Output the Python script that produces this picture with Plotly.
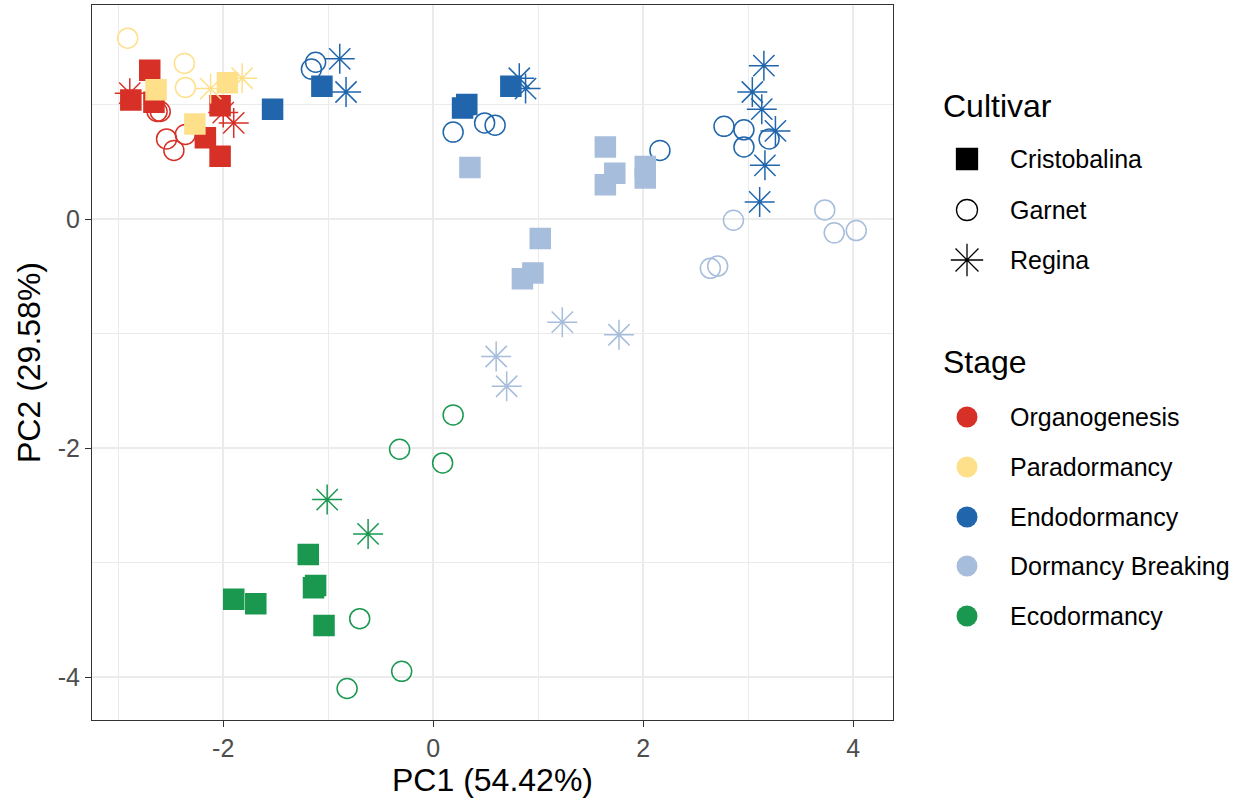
import plotly.graph_objects as go

# ---------------- data ----------------
stages = ["Organogenesis", "Paradormancy", "Endodormancy", "Dormancy Breaking", "Ecodormancy"]
stage_colors = ["#D73027", "#FEE08B", "#2166AC", "#A6BDDB", "#1A9850"]
cultivars = ["Cristobalina", "Garnet", "Regina"]
cultivar_symbols = ["square", "circle-open", "asterisk-open"]
cultivar_sizes = [20, 20, 25]

# Organogenesis
org_cri_pc1 = [-2.70, -2.88, -2.66, -2.17, -2.03]
org_cri_pc2 = [1.30, 1.04, 1.02, 0.71, 0.55]
org_gar_pc1 = [-2.63, -2.60, -2.54, -2.47, -2.36]
org_gar_pc2 = [0.94, 0.94, 0.70, 0.60, 0.74]
org_reg_pc1 = [-2.89, -2.00, -1.90]
org_reg_pc2 = [1.10, 0.93, 0.84]
org_cri2_pc1 = [-2.03]
org_cri2_pc2 = [0.99]

# Paradormancy
par_cri_pc1 = [-2.64, -1.96, -2.27]
par_cri_pc2 = [1.13, 1.19, 0.83]
par_gar_pc1 = [-2.91, -2.37, -2.36]
par_gar_pc2 = [1.58, 1.36, 1.15]
par_reg_pc1 = [-2.12, -1.82]
par_reg_pc2 = [1.14, 1.23]

# Endodormancy
end_cri_pc1 = [-1.53, -1.06, 0.32, 0.28, 0.74]
end_cri_pc2 = [0.96, 1.16, 1.00, 0.97, 1.16]
end_gar_pc1 = [-1.12, -1.16, 0.19, 0.49, 0.59, 2.16, 2.77, 2.96, 2.96, 3.20]
end_gar_pc2 = [1.37, 1.31, 0.76, 0.84, 0.82, 0.60, 0.81, 0.78, 0.63, 0.70]
end_reg_pc1 = [-0.89, -0.83, 0.82, 0.88, 3.15, 3.04, 3.13, 3.26, 3.16, 3.11]
end_reg_pc2 = [1.40, 1.11, 1.23, 1.14, 1.34, 1.11, 0.96, 0.77, 0.47, 0.15]

# Dormancy Breaking
dbr_cri_pc1 = [0.35, 1.64, 1.73, 1.64, 2.02, 2.02, 1.02, 0.95, 0.85]
dbr_cri_pc2 = [0.45, 0.63, 0.40, 0.30, 0.46, 0.36, -0.17, -0.47, -0.52]
dbr_gar_pc1 = [2.86, 3.73, 3.82, 4.03, 2.64, 2.71]
dbr_gar_pc2 = [-0.01, 0.08, -0.12, -0.10, -0.43, -0.41]
dbr_reg_pc1 = [1.23, 1.77, 0.60, 0.70]
dbr_reg_pc2 = [-0.90, -1.01, -1.20, -1.46]

# Ecodormancy
eco_cri_pc1 = [-1.19, -1.12, -1.14, -1.90, -1.69, -1.04]
eco_cri_pc2 = [-2.93, -3.20, -3.22, -3.32, -3.36, -3.55]
eco_gar_pc1 = [0.19, -0.32, 0.09, -0.70, -0.30, -0.82]
eco_gar_pc2 = [-1.71, -2.01, -2.13, -3.49, -3.95, -4.10]
eco_reg_pc1 = [-1.01, -0.62]
eco_reg_pc2 = [-2.45, -2.75]

x_tickvals = [-2, 0, 2, 4]
x_ticktext = ["-2", "0", "2", "4"]
y_tickvals = [0, -2, -4]
y_ticktext = ["0", "-2", "-4"]
x_minor = [-3, -1, 1, 3]
y_minor = [1, -1, -3]

x_title = "PC1 (54.42%)"
y_title = "PC2 (29.58%)"

# (stage index, cultivar index, pc1, pc2) in drawing order
groups = [
    (0, 0, org_cri_pc1, org_cri_pc2),
    (0, 1, org_gar_pc1, org_gar_pc2),
    (0, 2, org_reg_pc1, org_reg_pc2),
    (0, 0, org_cri2_pc1, org_cri2_pc2),
    (1, 0, par_cri_pc1, par_cri_pc2),
    (1, 1, par_gar_pc1, par_gar_pc2),
    (1, 2, par_reg_pc1, par_reg_pc2),
    (2, 1, end_gar_pc1, end_gar_pc2),
    (2, 0, end_cri_pc1, end_cri_pc2),
    (2, 2, end_reg_pc1, end_reg_pc2),
    (3, 0, dbr_cri_pc1, dbr_cri_pc2),
    (3, 1, dbr_gar_pc1, dbr_gar_pc2),
    (3, 2, dbr_reg_pc1, dbr_reg_pc2),
    (4, 0, eco_cri_pc1, eco_cri_pc2),
    (4, 1, eco_gar_pc1, eco_gar_pc2),
    (4, 2, eco_reg_pc1, eco_reg_pc2),
]

FONT = "Liberation Sans, Arial, sans-serif"
fig = go.Figure()

for si, ci, px, py in groups:
    col = stage_colors[si]
    fig.add_trace(go.Scatter(
        x=px, y=py, mode="markers", showlegend=False,
        name=f"{stages[si]} - {cultivars[ci]}",
        marker=dict(symbol=cultivar_symbols[ci], size=cultivar_sizes[ci], color=col,
                    line=dict(width=1.5, color=col)),
        xaxis="x", yaxis="y",
    ))

# ---------------- manual legend (in a pixel-scaled helper axis) ----------------
W, H = 1242, 802
ML, MR, MT, MB = 92, 0, 5, 82
plot_w = W - ML - MR
main_frac = (893 - ML) / plot_w
leg_frac = (902 - ML) / plot_w

leg_key_x = 967
leg_text_x = 1008
leg_title_x = 941
cult_title_y = 106
cult_rows = [159, 210, 260]
stage_title_y = 362
stage_rows = [417, 467, 517, 566, 616]

fig.add_trace(go.Scatter(
    x=[leg_key_x] * 3, y=cult_rows, mode="markers", showlegend=False, hoverinfo="skip",
    marker=dict(symbol=cultivar_symbols, size=[21, 21, 27], color="#000000", opacity=1,
                line=dict(width=1.3, color="#000000")),
    xaxis="x2", yaxis="y2",
))
fig.add_trace(go.Scatter(
    x=[leg_key_x] * 5, y=stage_rows, mode="markers", showlegend=False, hoverinfo="skip",
    marker=dict(symbol="circle", size=21, color=stage_colors, opacity=1, line=dict(width=0)),
    xaxis="x2", yaxis="y2",
))

annotations = []
for title, yy in [("Cultivar", cult_title_y), ("Stage", stage_title_y)]:
    annotations.append(dict(x=leg_title_x, y=yy, xref="x2", yref="y2", text=title,
                            showarrow=False, xanchor="left", yanchor="middle",
                            font=dict(family=FONT, size=32, color="black")))
for name, yy in zip(cultivars, cult_rows):
    annotations.append(dict(x=leg_text_x, y=yy, xref="x2", yref="y2", text=name,
                            showarrow=False, xanchor="left", yanchor="middle",
                            font=dict(family=FONT, size=25, color="black")))
for name, yy in zip(stages, stage_rows):
    annotations.append(dict(x=leg_text_x, y=yy, xref="x2", yref="y2", text=name,
                            showarrow=False, xanchor="left", yanchor="middle",
                            font=dict(family=FONT, size=25, color="black")))

grid_col = "#EBEBEB"
fig.update_layout(
    width=W, height=H,
    margin=dict(l=ML, r=MR, t=MT, b=MB, autoexpand=False),
    paper_bgcolor="white", plot_bgcolor="white",
    font=dict(family=FONT, color="black"),
    showlegend=False,
    annotations=annotations,
    xaxis=dict(
        domain=[0, main_frac], range=[-3.25, 4.38], automargin=False,
        tickmode="array", tickvals=x_tickvals, ticktext=x_ticktext,
        tickfont=dict(size=25, color="#4D4D4D"),
        ticks="outside", ticklen=6, tickcolor="#333333", tickwidth=1.2,
        showgrid=True, gridcolor=grid_col, gridwidth=1.6,
        minor=dict(tickmode="array", tickvals=x_minor, showgrid=True,
                   gridcolor=grid_col, gridwidth=1, ticks=""),
        zeroline=False, showline=True, linecolor="#333333", linewidth=1.2, mirror=True,
        title=dict(text=x_title, font=dict(size=32, color="black"), standoff=4),
    ),
    yaxis=dict(
        domain=[0, 1], range=[-4.375, 1.87], automargin=False,
        tickmode="array", tickvals=y_tickvals, ticktext=y_ticktext,
        tickfont=dict(size=25, color="#4D4D4D"),
        ticks="outside", ticklen=6, tickcolor="#333333", tickwidth=1.2,
        showgrid=True, gridcolor=grid_col, gridwidth=1.6,
        minor=dict(tickmode="array", tickvals=y_minor, showgrid=True,
                   gridcolor=grid_col, gridwidth=1, ticks=""),
        zeroline=False, showline=True, linecolor="#333333", linewidth=1.2, mirror=True,
        title=dict(text=y_title, font=dict(size=32, color="black"), standoff=7),
    ),
    xaxis2=dict(domain=[leg_frac, 1], range=[902, 1242], visible=False, fixedrange=True,
                automargin=False),
    yaxis2=dict(domain=[0, 1], range=[720, 5], visible=False, fixedrange=True, anchor="x2",
                automargin=False),
)

fig.write_html("out.html", config={"displayModeBar": False},
               post_script="document.body.style.margin='0px';")
